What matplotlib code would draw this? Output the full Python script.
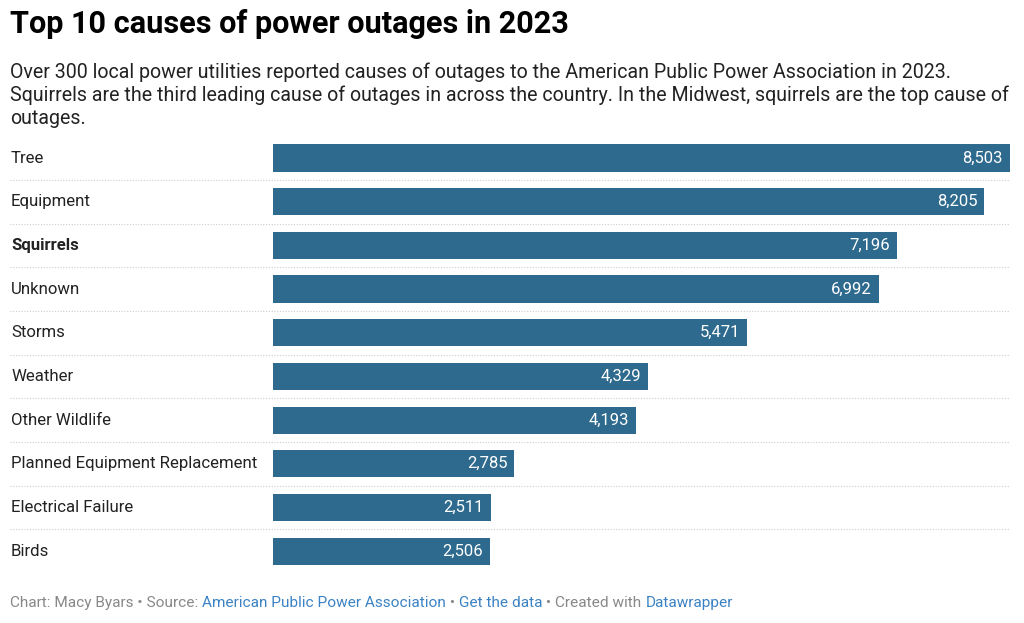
import matplotlib
matplotlib.use("Agg")
import matplotlib.pyplot as plt
import matplotlib.transforms as mtransforms

plt.rcParams['font.family'] = ['Roboto', 'DejaVu Sans']

causes = ["Tree", "Equipment", "Squirrels", "Unknown", "Storms", "Weather",
          "Other Wildlife", "Planned Equipment Replacement", "Electrical Failure", "Birds"]
outages = [8503, 8205, 7196, 6992, 5471, 4329, 4193, 2785, 2511, 2506]
highlight = "Squirrels"

BAR = '#2e6a8e'
W, H = 1024, 623

fig = plt.figure(figsize=(W / 100, H / 100), dpi=100)
fig.patch.set_facecolor('white')

# axes placed in pixel space: bars from x=273 to 1010, rows from y=136 to 573
top, bottom = 136.3, 573.0
ax = fig.add_axes([273 / W, 1 - bottom / H, (1010 - 273) / W, (bottom - top) / H])
ypos = list(range(len(causes)))
ax.barh(ypos, outages, height=0.625, color=BAR, zorder=2)
ax.set_xlim(0, max(outages))
ax.set_ylim(len(causes) - 0.5, -0.5)
ax.axis('off')

# values inside bars
for y, v in zip(ypos, outages):
    ax.annotate(f"{v:,}", (v, y), xytext=(-7, 0), textcoords='offset pixels',
                ha='right', va='center', color='white', fontsize=12)

# category labels at the left edge of the figure
lab_tr = mtransforms.blended_transform_factory(fig.transFigure, ax.transData)
for y, c in zip(ypos, causes):
    ax.text(11 / W, y, c, transform=lab_tr, ha='left', va='center', fontsize=12.1,
            color='#222222', fontweight='bold' if c == highlight else 'normal')

# dotted separators between rows
for y in ypos[:-1]:
    ax.plot([10 / W, 1010 / W], [y + 0.5, y + 0.5], transform=lab_tr, clip_on=False,
            color='#cccccc', lw=0.8, ls=(0, (1, 1.5)), zorder=1)

# title and subtitle
fig.text(10 / W, 1 - 24 / H, "Top 10 causes of power outages in 2023", ha='left', va='center',
         fontsize=22.1, fontweight='bold', color='#000000')
sub_lines = ["Over 300 local power utilities reported causes of outages to the American Public Power Association in 2023.",
             "Squirrels are the third leading cause of outages in across the country. In the Midwest, squirrels are the top cause of",
             "outages."]
for i, line in enumerate(sub_lines):
    fig.text(10 / W, 1 - (72 + 23 * i) / H, line, ha='left', va='center', fontsize=14.1,
             color='#222222')

# footer made of grey and blue pieces, all on one baseline
pieces = [("Chart: Macy Byars • Source: ", '#888888'),
          ("American Public Power Association", '#3b82c4'),
          (" • ", '#888888'),
          ("Get the data", '#3b82c4'),
          (" • Created with ", '#888888'),
          ("Datawrapper", '#3b82c4')]
renderer = fig.canvas.get_renderer()
x = 10
for s, col in pieces:
    t = fig.text(x / W, 1 - 607 / H, s, ha='left', va='baseline', fontsize=11.1, color=col)
    bb = t.get_window_extent(renderer=renderer)
    x += bb.width

fig.savefig("out.png", dpi=100)
